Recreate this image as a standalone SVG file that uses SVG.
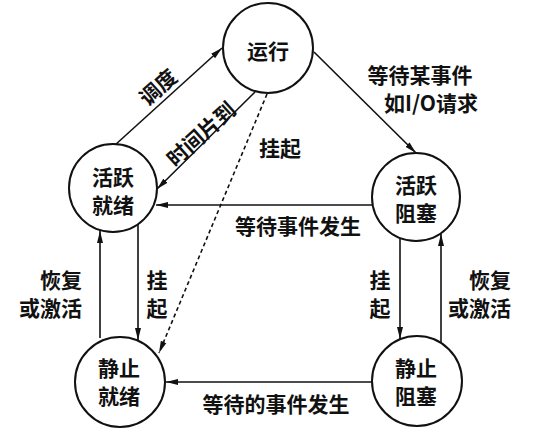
<svg xmlns="http://www.w3.org/2000/svg" width="539" height="448" viewBox="0 0 539 448">
<style>
.n{fill:#fff;stroke:#111;stroke-width:2}
.t{font-family:"Noto Sans CJK SC","Noto Sans",sans-serif;font-size:21px;font-weight:bold;fill:#111;text-anchor:middle}
.l{font-family:"Noto Sans CJK SC","Noto Sans",sans-serif;font-size:21px;font-weight:bold;fill:#111}
.c{stroke:#111;stroke-width:1.6;fill:none;marker-end:url(#a)}
.d{stroke-dasharray:4,3}
</style>
<defs>
<marker id="a" viewBox="0 0 12 8" refX="12" refY="4" markerWidth="12" markerHeight="8" markerUnits="userSpaceOnUse" orient="auto">
<path d="M0,1 L12,4 L0,7 z" fill="#111"/>
</marker>
</defs>
<rect width="539" height="448" fill="#fff"/>
<g id="connectors">
<line class="c" x1="115" y1="145" x2="222" y2="48"/>
<line class="c" x1="255" y1="92" x2="157" y2="189"/>
<line class="c d" x1="267" y1="94" x2="159" y2="353"/>
<line class="c" x1="314" y1="52" x2="416" y2="153"/>
<line class="c" x1="372" y1="205" x2="156" y2="205"/>
<line class="c" x1="138" y1="224" x2="138" y2="340"/>
<line class="c" x1="100" y1="338" x2="100" y2="231"/>
<line class="c" x1="400" y1="238" x2="400" y2="339"/>
<line class="c" x1="441" y1="343" x2="441" y2="234"/>
<line class="c" x1="372" y1="382" x2="166" y2="382"/>
</g>
<g id="labels">
<text class="t" transform="translate(158,87) rotate(-42)" y="8">调度</text>
<text class="t" transform="translate(201,134) rotate(-42)" y="8">时间片到</text>
<text class="t" x="280" y="156">挂起</text>
<text class="t" x="420" y="83">等待某事件</text>
<text class="t" x="431" y="111">如I/O请求</text>
<text class="t" x="298" y="234">等待事件发生</text>
<text class="t" x="276" y="412">等待的事件发生</text>
<text class="l" x="82" y="288" text-anchor="end">恢复</text>
<text class="l" x="82" y="316" text-anchor="end">或激活</text>
<text class="t" x="157" y="288">挂</text>
<text class="t" x="157" y="316">起</text>
<text class="t" x="380" y="288">挂</text>
<text class="t" x="380" y="316">起</text>
<text class="l" x="511" y="288" text-anchor="end">恢复</text>
<text class="l" x="511" y="316" text-anchor="end">或激活</text>
</g>
<g id="running">
<circle class="n" cx="268" cy="48" r="45"/>
<text class="t" x="268" y="59">运行</text>
</g>
<g id="active-ready">
<circle class="n" cx="113" cy="188" r="44"/>
<text class="t" x="113" y="185">活跃</text>
<text class="t" x="113" y="213">就绪</text>
</g>
<g id="active-blocked">
<circle class="n" cx="416" cy="197" r="44"/>
<text class="t" x="416" y="193">活跃</text>
<text class="t" x="416" y="221">阻塞</text>
</g>
<g id="static-ready">
<circle class="n" cx="120" cy="382" r="45"/>
<text class="t" x="119" y="376">静止</text>
<text class="t" x="119" y="404">就绪</text>
</g>
<g id="static-blocked">
<circle class="n" cx="417" cy="381" r="45"/>
<text class="t" x="416" y="376">静止</text>
<text class="t" x="416" y="404">阻塞</text>
</g>
</svg>
